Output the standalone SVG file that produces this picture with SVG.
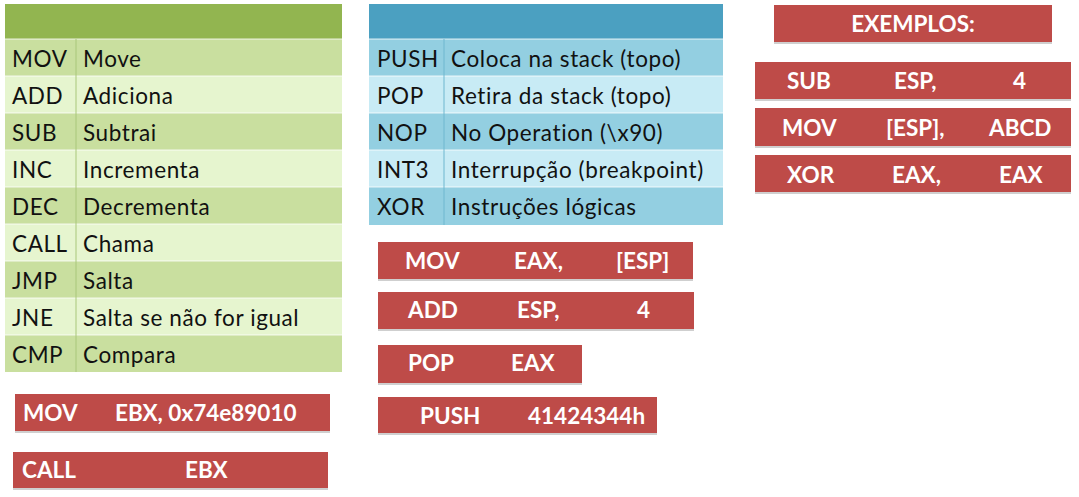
<svg xmlns="http://www.w3.org/2000/svg" width="1079" height="497" viewBox="0 0 1079 497">
<style>
.t{font-family:Lato,"Open Sans",sans-serif;font-size:22.5px;letter-spacing:0.6px;fill:#111}
.b{font-family:Lato,"Open Sans",sans-serif;font-size:22.5px;font-weight:bold;fill:#fff}
.rb{fill:#be4b48}
.sh{fill:#cfcfcf}
.gh{fill:#92b550}
.g1{fill:#c9df9f}
.g2{fill:#e6f5cf}
.bh{fill:#4ba0c1}
.b1{fill:#93cfe1}
.b2{fill:#c8ebf5}
.sep{stroke:#fff;stroke-width:1.2;opacity:0.8}
</style>
<rect width="1079" height="497" fill="#fff"/>
<g id="green-table">
<rect class="gh" x="5" y="4" width="337" height="35"/>
<rect class="g1" x="5" y="39" width="337" height="37"/>
<rect class="g2" x="5" y="76" width="337" height="37"/>
<rect class="g1" x="5" y="113" width="337" height="37"/>
<rect class="g2" x="5" y="150" width="337" height="37"/>
<rect class="g1" x="5" y="187" width="337" height="37"/>
<rect class="g2" x="5" y="224" width="337" height="37"/>
<rect class="g1" x="5" y="261" width="337" height="37"/>
<rect class="g2" x="5" y="298" width="337" height="37"/>
<rect class="g1" x="5" y="335" width="337" height="37"/>
<g class="sep">
<line x1="5" y1="39" x2="342" y2="39"/><line x1="5" y1="76" x2="342" y2="76"/><line x1="5" y1="113" x2="342" y2="113"/>
<line x1="5" y1="150" x2="342" y2="150"/><line x1="5" y1="187" x2="342" y2="187"/><line x1="5" y1="224" x2="342" y2="224"/>
<line x1="5" y1="261" x2="342" y2="261"/><line x1="5" y1="298" x2="342" y2="298"/><line x1="5" y1="335" x2="342" y2="335"/>
</g>
<line x1="76" y1="39" x2="76" y2="372" stroke="#a9c77a" stroke-width="1"/>
<text class="t" x="12" y="67">MOV</text><text class="t" x="83" y="67">Move</text>
<text class="t" x="12" y="104">ADD</text><text class="t" x="83" y="104">Adiciona</text>
<text class="t" x="12" y="141">SUB</text><text class="t" x="83" y="141">Subtrai</text>
<text class="t" x="12" y="178">INC</text><text class="t" x="83" y="178">Incrementa</text>
<text class="t" x="12" y="215">DEC</text><text class="t" x="83" y="215">Decrementa</text>
<text class="t" x="12" y="252">CALL</text><text class="t" x="83" y="252">Chama</text>
<text class="t" x="12" y="289">JMP</text><text class="t" x="83" y="289">Salta</text>
<text class="t" x="12" y="326">JNE</text><text class="t" x="83" y="326">Salta se não for igual</text>
<text class="t" x="12" y="363">CMP</text><text class="t" x="83" y="363">Compara</text>
</g>
<g id="blue-table">
<rect class="bh" x="369" y="4" width="354" height="35"/>
<rect class="b1" x="369" y="39" width="354" height="37"/>
<rect class="b2" x="369" y="76" width="354" height="37"/>
<rect class="b1" x="369" y="113" width="354" height="37"/>
<rect class="b2" x="369" y="150" width="354" height="37"/>
<rect class="b1" x="369" y="187" width="354" height="38"/>
<g class="sep">
<line x1="369" y1="39" x2="723" y2="39"/><line x1="369" y1="76" x2="723" y2="76"/><line x1="369" y1="113" x2="723" y2="113"/>
<line x1="369" y1="150" x2="723" y2="150"/><line x1="369" y1="187" x2="723" y2="187"/>
</g>
<line x1="444" y1="39" x2="444" y2="225" stroke="#6fb7cf" stroke-width="1"/>
<text class="t" x="377" y="67">PUSH</text><text class="t" x="451" y="67">Coloca na stack (topo)</text>
<text class="t" x="377" y="104">POP</text><text class="t" x="451" y="104">Retira da stack (topo)</text>
<text class="t" x="377" y="141">NOP</text><text class="t" x="451" y="141">No Operation (\x90)</text>
<text class="t" x="377" y="178">INT3</text><text class="t" x="451" y="178">Interrupção (breakpoint)</text>
<text class="t" x="377" y="215">XOR</text><text class="t" x="451" y="215">Instruções lógicas</text>
</g>
<g id="box-mov-ebx">
<rect class="sh" x="15" y="396" width="315" height="37"/>
<rect class="rb" x="15" y="394" width="315" height="37"/>
<text class="b" x="23" y="421">MOV</text><text class="b" x="115" y="421">EBX, 0x74e89010</text>
</g>
<g id="box-call-ebx">
<rect class="sh" x="13" y="454" width="315" height="36"/>
<rect class="rb" x="13" y="452" width="315" height="36"/>
<text class="b" x="22" y="478">CALL</text><text class="b" x="185" y="478">EBX</text>
</g>
<g id="box-mov-eax">
<rect class="sh" x="378" y="244" width="315" height="37"/>
<rect class="rb" x="378" y="242" width="315" height="37"/>
<text class="b" x="405" y="269">MOV</text><text class="b" x="514" y="269">EAX,</text><text class="b" x="616" y="269">[ESP]</text>
</g>
<g id="box-add-esp">
<rect class="sh" x="378" y="294" width="316" height="37"/>
<rect class="rb" x="378" y="292" width="316" height="37"/>
<text class="b" x="408" y="318">ADD</text><text class="b" x="517" y="318">ESP,</text><text class="b" x="637" y="318">4</text>
</g>
<g id="box-pop-eax">
<rect class="sh" x="378" y="347" width="204" height="38"/>
<rect class="rb" x="378" y="345" width="204" height="38"/>
<text class="b" x="408" y="371">POP</text><text class="b" x="511" y="371">EAX</text>
</g>
<g id="box-push">
<rect class="sh" x="378" y="399" width="279" height="36"/>
<rect class="rb" x="378" y="397" width="279" height="36"/>
<text class="b" x="420" y="424">PUSH</text><text class="b" x="528" y="424">41424344h</text>
</g>
<g id="box-exemplos">
<rect class="sh" x="774" y="7" width="278" height="37"/>
<rect class="rb" x="774" y="5" width="278" height="37"/>
<text class="b" x="913" y="32" text-anchor="middle">EXEMPLOS:</text>
</g>
<g id="box-sub-esp">
<rect class="sh" x="755" y="64" width="316" height="37"/>
<rect class="rb" x="755" y="62" width="316" height="37"/>
<text class="b" x="787" y="89">SUB</text><text class="b" x="894" y="89">ESP,</text><text class="b" x="1013" y="89">4</text>
</g>
<g id="box-mov-esp">
<rect class="sh" x="755" y="110" width="316" height="38"/>
<rect class="rb" x="755" y="108" width="316" height="38"/>
<text class="b" x="782" y="136">MOV</text><text class="b" x="886" y="136">[ESP],</text><text class="b" x="989" y="136">ABCD</text>
</g>
<g id="box-xor">
<rect class="sh" x="755" y="157" width="316" height="37"/>
<rect class="rb" x="755" y="155" width="316" height="37"/>
<text class="b" x="787" y="183">XOR</text><text class="b" x="892" y="183">EAX,</text><text class="b" x="999" y="183">EAX</text>
</g>
<g id="connectors"></g>
</svg>
